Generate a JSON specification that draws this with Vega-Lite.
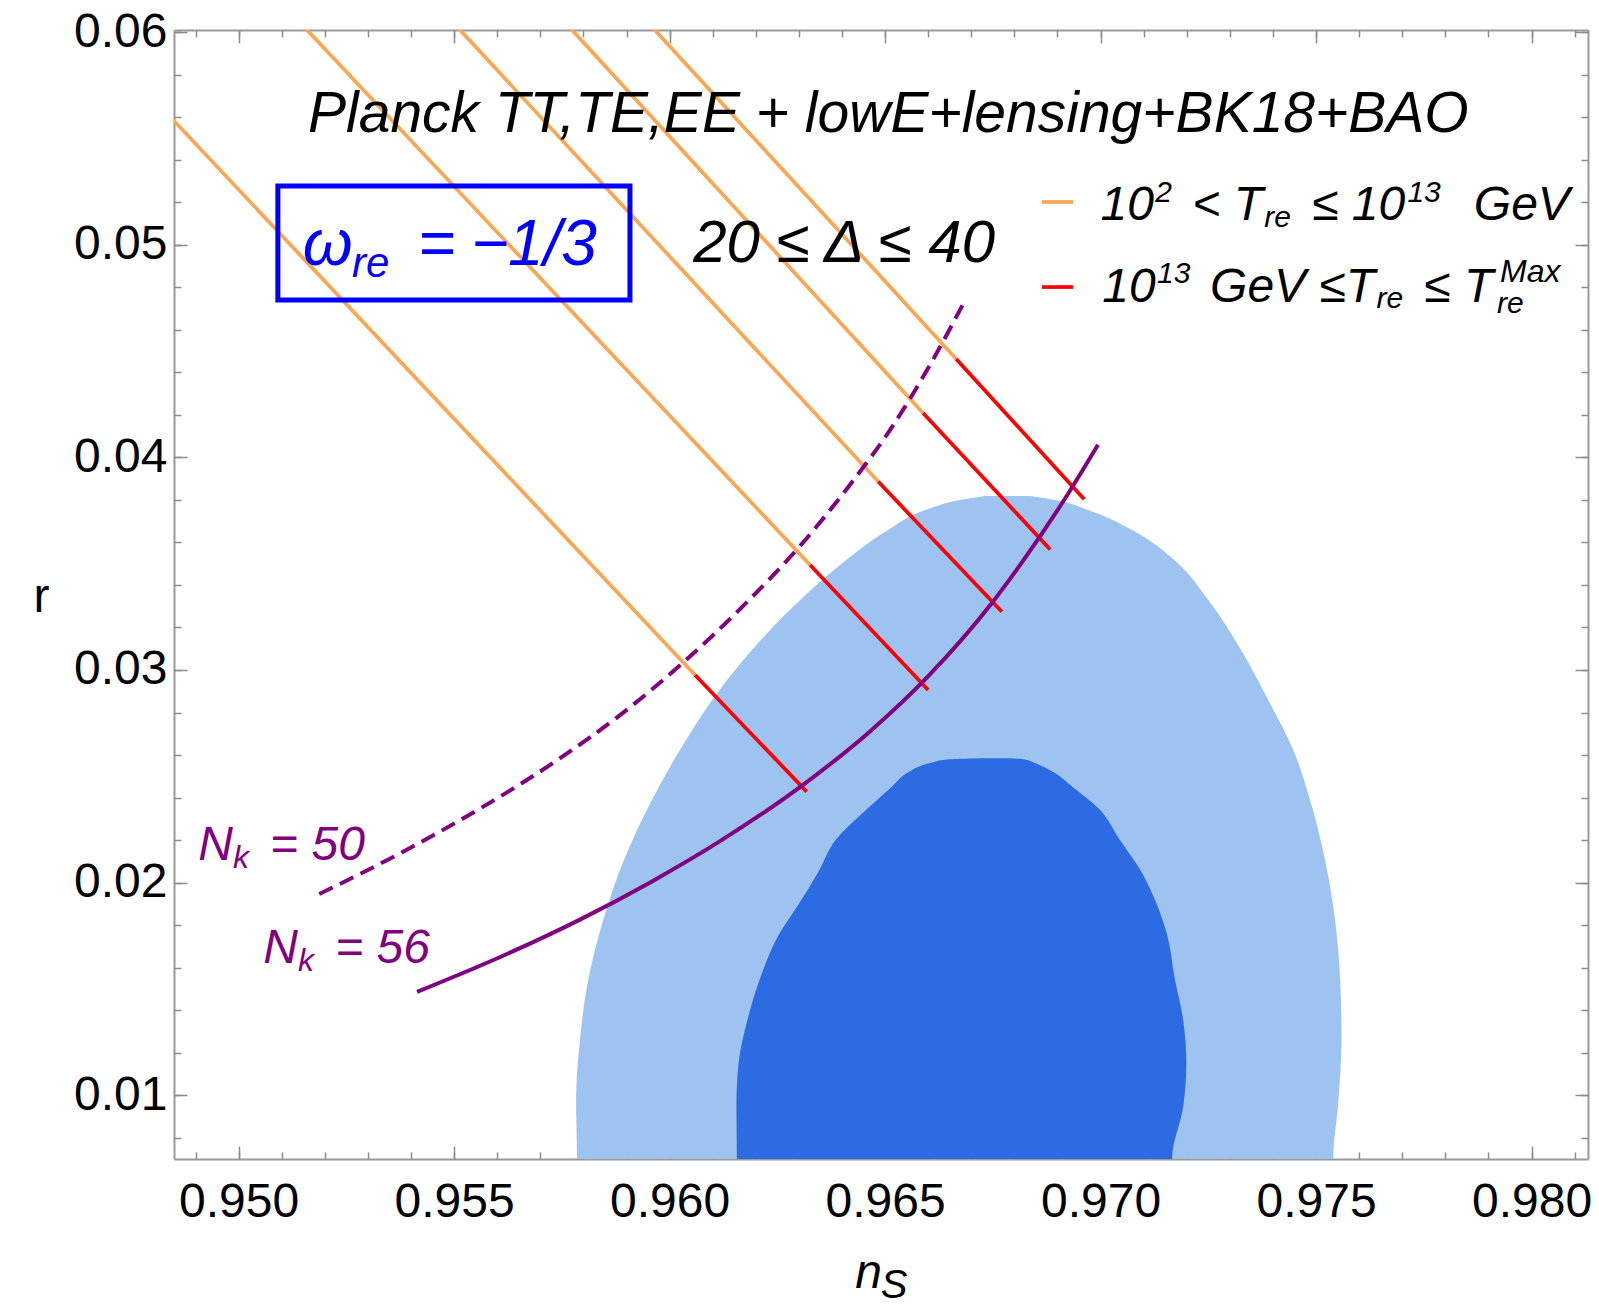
{
  "$schema": "https://vega.github.io/schema/vega-lite/v6.json",
  "width": 1414,
  "height": 1129,
  "autosize": {"type": "none"},
  "padding": {"left": 174, "top": 30, "right": 11, "bottom": 150},
  "background": "white",
  "config": {
    "view": {"stroke": null},
    "font": "Liberation Sans",
    "axis": {
      "grid": false, "zindex": 1,
      "tickColor": "#8c8c8c", "tickWidth": 1.5,
      "domainColor": "#9a9a9a", "domainWidth": 2,
      "labelFont": "Liberation Sans", "labelFontSize": 48, "labelColor": "#000000",
      "labelFlush": false, "labelOverlap": false,
      "titleFont": "Liberation Sans", "titleFontSize": 48, "titleFontWeight": "normal", "titleColor": "#000000"
    }
  },
  "datasets": {
    "outer": [
      {"r": 0.00672, "ns": 0.95785, "ns2": 0.97540},
      {"r": 0.0070, "ns": 0.95785, "ns2": 0.97540},
      {"r": 0.00978, "ns": 0.95783, "ns2": 0.97552},
      {"r": 0.0126, "ns": 0.95792, "ns2": 0.97559},
      {"r": 0.01542, "ns": 0.95811, "ns2": 0.97556},
      {"r": 0.01824, "ns": 0.95846, "ns2": 0.97544},
      {"r": 0.02106, "ns": 0.95894, "ns2": 0.97521},
      {"r": 0.02389, "ns": 0.95959, "ns2": 0.97486},
      {"r": 0.02624, "ns": 0.96024, "ns2": 0.97447},
      {"r": 0.02859, "ns": 0.96099, "ns2": 0.97389},
      {"r": 0.03094, "ns": 0.96191, "ns2": 0.97326},
      {"r": 0.03329, "ns": 0.96303, "ns2": 0.97250},
      {"r": 0.03517, "ns": 0.96410, "ns2": 0.97171},
      {"r": 0.03658, "ns": 0.96507, "ns2": 0.97073},
      {"r": 0.03752, "ns": 0.96593, "ns2": 0.96971},
      {"r": 0.03799, "ns": 0.96674, "ns2": 0.96895},
      {"r": 0.03818, "ns": 0.96732, "ns2": 0.96837}
    ],
    "inner": [
      {"r": 0.0065, "ns": 0.96156, "ns2": 0.97166},
      {"r": 0.007, "ns": 0.96156, "ns2": 0.97166},
      {"r": 0.0095, "ns": 0.96155, "ns2": 0.97192},
      {"r": 0.0115, "ns": 0.96160, "ns2": 0.97199},
      {"r": 0.0135, "ns": 0.96180, "ns2": 0.97192},
      {"r": 0.0155, "ns": 0.96210, "ns2": 0.97172},
      {"r": 0.0175, "ns": 0.96252, "ns2": 0.97155},
      {"r": 0.019, "ns": 0.96300, "ns2": 0.97130},
      {"r": 0.0205, "ns": 0.96345, "ns2": 0.97095},
      {"r": 0.022, "ns": 0.96385, "ns2": 0.97045},
      {"r": 0.0235, "ns": 0.96460, "ns2": 0.96995},
      {"r": 0.0245, "ns": 0.96515, "ns2": 0.96935},
      {"r": 0.0252, "ns": 0.96555, "ns2": 0.96890},
      {"r": 0.0256, "ns": 0.96600, "ns2": 0.96850},
      {"r": 0.0258, "ns": 0.96650, "ns2": 0.96820},
      {"r": 0.02585, "ns": 0.96720, "ns2": 0.96790}
    ],
    "tlines": [
      {"seg": "1a", "range": "low", "ns": 0.94840, "r": 0.05604},
      {"seg": "1a", "range": "low", "ns": 0.96059, "r": 0.02976},
      {"seg": "1b", "range": "high", "ns": 0.96059, "r": 0.02976},
      {"seg": "1b", "range": "high", "ns": 0.96318, "r": 0.02428},
      {"seg": "2a", "range": "low", "ns": 0.95154, "r": 0.0602},
      {"seg": "2a", "range": "low", "ns": 0.96326, "r": 0.03494},
      {"seg": "2b", "range": "high", "ns": 0.96326, "r": 0.03494},
      {"seg": "2b", "range": "high", "ns": 0.96600, "r": 0.02906},
      {"seg": "3a", "range": "low", "ns": 0.95509, "r": 0.0602},
      {"seg": "3a", "range": "low", "ns": 0.96484, "r": 0.03886},
      {"seg": "3b", "range": "high", "ns": 0.96484, "r": 0.03886},
      {"seg": "3b", "range": "high", "ns": 0.96771, "r": 0.03274},
      {"seg": "4a", "range": "low", "ns": 0.95769, "r": 0.0602},
      {"seg": "4a", "range": "low", "ns": 0.96588, "r": 0.04209},
      {"seg": "4b", "range": "high", "ns": 0.96588, "r": 0.04209},
      {"seg": "4b", "range": "high", "ns": 0.96883, "r": 0.03567},
      {"seg": "5a", "range": "low", "ns": 0.95961, "r": 0.0602},
      {"seg": "5a", "range": "low", "ns": 0.96665, "r": 0.04463},
      {"seg": "5b", "range": "high", "ns": 0.96665, "r": 0.04463},
      {"seg": "5b", "range": "high", "ns": 0.96962, "r": 0.03803}
    ],
    "n50": [
      {"ns": 0.95187, "r": 0.01946},
      {"ns": 0.95374, "r": 0.02137},
      {"ns": 0.95560, "r": 0.02348},
      {"ns": 0.95746, "r": 0.02585},
      {"ns": 0.95885, "r": 0.02788},
      {"ns": 0.96031, "r": 0.03034},
      {"ns": 0.96180, "r": 0.03320},
      {"ns": 0.96303, "r": 0.03584},
      {"ns": 0.96412, "r": 0.03854},
      {"ns": 0.96519, "r": 0.04152},
      {"ns": 0.96604, "r": 0.04434},
      {"ns": 0.96681, "r": 0.04721}
    ],
    "n56": [
      {"ns": 0.95414, "r": 0.01486},
      {"ns": 0.95607, "r": 0.01650},
      {"ns": 0.95792, "r": 0.01826},
      {"ns": 0.95955, "r": 0.02001},
      {"ns": 0.96117, "r": 0.02195},
      {"ns": 0.96319, "r": 0.02474},
      {"ns": 0.96465, "r": 0.02711},
      {"ns": 0.96598, "r": 0.02966},
      {"ns": 0.96751, "r": 0.03323},
      {"ns": 0.96820, "r": 0.03513},
      {"ns": 0.96925, "r": 0.03830},
      {"ns": 0.96994, "r": 0.04059}
    ],
    "box": [
      {"ns": 0.95091, "ns2": 0.95908, "r": 0.05276, "r2": 0.04740}
    ],
    "swatch": [
      {"range": "low", "ns": 0.96864, "ns2": 0.96936, "r": 0.05201},
      {"range": "high", "ns": 0.96864, "ns2": 0.96936, "r": 0.04801}
    ],
    "labels": [
      {"grp": "title", "ns": 0.95161, "r": 0.0553, "t": "Planck TT,TE,EE + lowE+lensing+BK18+BAO"},
      {"grp": "delta", "ns": 0.96405, "r": 0.04919, "t": "20 ≤ Δ ≤ 40"},
      {"grp": "wmain", "ns": 0.95149, "r": 0.04905, "t": "ω"},
      {"grp": "wmain", "ns": 0.95416, "r": 0.04905, "t": "="},
      {"grp": "wmain", "ns": 0.95540, "r": 0.04905, "t": "−"},
      {"grp": "wmain", "ns": 0.95625, "r": 0.04905, "t": "1/3"},
      {"grp": "wsub", "ns": 0.95263, "r": 0.04848, "t": "re"},
      {"grp": "nmain", "ns": 0.94906, "r": 0.02106, "t": "N"},
      {"grp": "nmain", "ns": 0.95073, "r": 0.02106, "t": "= 50"},
      {"grp": "nmain", "ns": 0.95057, "r": 0.01622, "t": "N"},
      {"grp": "nmain", "ns": 0.95224, "r": 0.01622, "t": "= 56"},
      {"grp": "nsub", "ns": 0.94987, "r": 0.02069, "t": "k"},
      {"grp": "nsub", "ns": 0.95138, "r": 0.01584, "t": "k"},
      {"grp": "lmain", "ns": 0.97000, "r": 0.05116, "t": "10"},
      {"grp": "lmain", "ns": 0.97213, "r": 0.05116, "t": "< T"},
      {"grp": "lmain", "ns": 0.97491, "r": 0.05116, "t": "≤ 10"},
      {"grp": "lmain", "ns": 0.97866, "r": 0.05116, "t": "GeV"},
      {"grp": "lmain", "ns": 0.97004, "r": 0.04731, "t": "10"},
      {"grp": "lmain", "ns": 0.97254, "r": 0.04731, "t": "GeV ≤T"},
      {"grp": "lmain", "ns": 0.97751, "r": 0.04731, "t": "≤ T"},
      {"grp": "lsub", "ns": 0.97127, "r": 0.05201, "t": "2"},
      {"grp": "lsub", "ns": 0.97380, "r": 0.05083, "t": "re"},
      {"grp": "lsub", "ns": 0.97712, "r": 0.05201, "t": "13"},
      {"grp": "lsub", "ns": 0.97131, "r": 0.04820, "t": "13"},
      {"grp": "lsub", "ns": 0.97640, "r": 0.04703, "t": "re"},
      {"grp": "lsup", "ns": 0.97927, "r": 0.04825, "t": "Max"},
      {"grp": "lsub", "ns": 0.97920, "r": 0.04679, "t": "re"},
      {"grp": "xsub", "ns": 0.96490, "r": 0.00046, "t": "S"}
    ]
  },
  "encoding": {
    "x": {"field": "ns", "type": "quantitative", "scale": {"domain": [0.9485, 0.98131], "nice": false, "zero": false}, "axis": null},
    "y": {"field": "r", "type": "quantitative", "scale": {"domain": [0.007, 0.0601], "nice": false, "zero": false}, "axis": null}
  },
  "layer": [
    {
      "data": {"name": "outer"},
      "mark": {"type": "area", "orient": "horizontal", "interpolate": "monotone", "color": "#9ec3f0", "clip": true},
      "encoding": {
        "x": {"field": "ns", "type": "quantitative", "scale": {"domain": [0.9485, 0.98131], "nice": false, "zero": false},
          "axis": {"orient": "bottom", "values": [0.95, 0.955, 0.96, 0.965, 0.97, 0.975, 0.98], "format": ".3f", "tickSize": -13, "labelPadding": 32,
            "title": "n", "titleFontStyle": "italic", "titleX": 694, "titleY": 128, "titleAlign": "center", "titleBaseline": "alphabetic"}},
        "x2": {"field": "ns2"},
        "y": {"field": "r", "type": "quantitative", "scale": {"domain": [0.007, 0.0601], "nice": false, "zero": false},
          "axis": {"orient": "left", "values": [0.01, 0.02, 0.03, 0.04, 0.05, 0.06], "format": ".2f", "tickSize": -13, "labelPadding": 20,
            "title": "r", "titleAngle": 0, "titleX": -133, "titleY": 567, "titleAlign": "center", "titleBaseline": "middle"}}
      }
    },
    {
      "data": {"name": "inner"},
      "mark": {"type": "area", "orient": "horizontal", "interpolate": "monotone", "color": "#2c6be2", "clip": true},
      "encoding": {
        "x": {"field": "ns", "type": "quantitative", "scale": {"domain": [0.9485, 0.98131], "nice": false, "zero": false},
          "axis": {"orient": "bottom", "values": [0.949, 0.95, 0.951, 0.952, 0.953, 0.954, 0.955, 0.956, 0.957, 0.958, 0.959, 0.96, 0.961, 0.962, 0.963, 0.964, 0.965, 0.966, 0.967, 0.968, 0.969, 0.97, 0.971, 0.972, 0.973, 0.974, 0.975, 0.976, 0.977, 0.978, 0.979, 0.98, 0.981],
            "tickSize": -7, "labels": false, "domain": false, "title": null}},
        "x2": {"field": "ns2"},
        "y": {"field": "r", "type": "quantitative", "scale": {"domain": [0.007, 0.0601], "nice": false, "zero": false},
          "axis": {"orient": "left", "values": [0.008, 0.01, 0.012, 0.014, 0.016, 0.018, 0.02, 0.022, 0.024, 0.026, 0.028, 0.03, 0.032, 0.034, 0.036, 0.038, 0.04, 0.042, 0.044, 0.046, 0.048, 0.05, 0.052, 0.054, 0.056, 0.058, 0.06],
            "tickSize": -7, "labels": false, "domain": false, "title": null}}
      }
    },
    {
      "data": {"name": "tlines"},
      "mark": {"type": "line", "strokeWidth": 3.7, "clip": true},
      "encoding": {
        "x": {"field": "ns", "type": "quantitative", "scale": {"domain": [0.9485, 0.98131], "nice": false, "zero": false},
          "axis": {"orient": "top", "values": [0.95, 0.955, 0.96, 0.965, 0.97, 0.975, 0.98], "tickSize": -13, "labels": false, "title": null}},
        "y": {"field": "r", "type": "quantitative", "scale": {"domain": [0.007, 0.0601], "nice": false, "zero": false},
          "axis": {"orient": "right", "values": [0.01, 0.02, 0.03, 0.04, 0.05, 0.06], "tickSize": -13, "labels": false, "title": null}},
        "color": {"field": "range", "type": "nominal", "scale": {"domain": ["low", "high"], "range": ["#fba653", "#ff0000"]}, "legend": null},
        "detail": {"field": "seg", "type": "nominal"}
      }
    },
    {
      "data": {"name": "n50"},
      "mark": {"type": "line", "color": "#800080", "strokeWidth": 4, "strokeDash": [15, 8], "interpolate": "monotone", "clip": true},
      "encoding": {
        "x": {"field": "ns", "type": "quantitative", "scale": {"domain": [0.9485, 0.98131], "nice": false, "zero": false},
          "axis": {"orient": "top", "values": [0.949, 0.95, 0.951, 0.952, 0.953, 0.954, 0.955, 0.956, 0.957, 0.958, 0.959, 0.96, 0.961, 0.962, 0.963, 0.964, 0.965, 0.966, 0.967, 0.968, 0.969, 0.97, 0.971, 0.972, 0.973, 0.974, 0.975, 0.976, 0.977, 0.978, 0.979, 0.98, 0.981],
            "tickSize": -7, "labels": false, "domain": false, "title": null}},
        "y": {"field": "r", "type": "quantitative", "scale": {"domain": [0.007, 0.0601], "nice": false, "zero": false},
          "axis": {"orient": "right", "values": [0.008, 0.01, 0.012, 0.014, 0.016, 0.018, 0.02, 0.022, 0.024, 0.026, 0.028, 0.03, 0.032, 0.034, 0.036, 0.038, 0.04, 0.042, 0.044, 0.046, 0.048, 0.05, 0.052, 0.054, 0.056, 0.058, 0.06],
            "tickSize": -7, "labels": false, "domain": false, "title": null}}
      }
    },
    {
      "data": {"name": "n56"},
      "mark": {"type": "line", "color": "#800080", "strokeWidth": 4, "interpolate": "monotone", "clip": true}
    },
    {
      "data": {"name": "box"},
      "mark": {"type": "rect", "filled": false, "color": "#0000ff", "strokeWidth": 5},
      "encoding": {"x2": {"field": "ns2"}, "y2": {"field": "r2"}}
    },
    {
      "data": {"name": "swatch"},
      "mark": {"type": "rule", "strokeWidth": 3.7},
      "encoding": {
        "x2": {"field": "ns2"},
        "color": {"field": "range", "type": "nominal", "scale": {"domain": ["low", "high"], "range": ["#fba653", "#ff0000"]}, "legend": null}
      }
    },
    {
      "data": {"name": "labels"},
      "transform": [{"filter": "datum.grp === 'title'"}],
      "mark": {"type": "text", "align": "left", "baseline": "alphabetic", "fontSize": 57, "fontStyle": "italic", "color": "#000000"},
      "encoding": {"text": {"field": "t"}}
    },
    {
      "data": {"name": "labels"},
      "transform": [{"filter": "datum.grp === 'delta'"}],
      "mark": {"type": "text", "align": "center", "baseline": "alphabetic", "fontSize": 60, "fontStyle": "italic", "color": "#000000"},
      "encoding": {"text": {"field": "t"}}
    },
    {
      "data": {"name": "labels"},
      "transform": [{"filter": "datum.grp === 'wmain'"}],
      "mark": {"type": "text", "align": "left", "baseline": "alphabetic", "fontSize": 64, "fontStyle": "italic", "color": "#0000ff"},
      "encoding": {"text": {"field": "t"}}
    },
    {
      "data": {"name": "labels"},
      "transform": [{"filter": "datum.grp === 'wsub'"}],
      "mark": {"type": "text", "align": "left", "baseline": "alphabetic", "fontSize": 42, "fontStyle": "italic", "color": "#0000ff"},
      "encoding": {"text": {"field": "t"}}
    },
    {
      "data": {"name": "labels"},
      "transform": [{"filter": "datum.grp === 'nmain'"}],
      "mark": {"type": "text", "align": "left", "baseline": "alphabetic", "fontSize": 48, "fontStyle": "italic", "color": "#800080"},
      "encoding": {"text": {"field": "t"}}
    },
    {
      "data": {"name": "labels"},
      "transform": [{"filter": "datum.grp === 'nsub'"}],
      "mark": {"type": "text", "align": "left", "baseline": "alphabetic", "fontSize": 32, "fontStyle": "italic", "color": "#800080"},
      "encoding": {"text": {"field": "t"}}
    },
    {
      "data": {"name": "labels"},
      "transform": [{"filter": "datum.grp === 'lmain'"}],
      "mark": {"type": "text", "align": "left", "baseline": "alphabetic", "fontSize": 48, "fontStyle": "italic", "color": "#000000"},
      "encoding": {"text": {"field": "t"}}
    },
    {
      "data": {"name": "labels"},
      "transform": [{"filter": "datum.grp === 'lsub'"}],
      "mark": {"type": "text", "align": "left", "baseline": "alphabetic", "fontSize": 30, "fontStyle": "italic", "color": "#000000"},
      "encoding": {"text": {"field": "t"}}
    },
    {
      "data": {"name": "labels"},
      "transform": [{"filter": "datum.grp === 'lsup'"}],
      "mark": {"type": "text", "align": "left", "baseline": "alphabetic", "fontSize": 32, "fontStyle": "italic", "color": "#000000"},
      "encoding": {"text": {"field": "t"}}
    },
    {
      "data": {"name": "labels"},
      "transform": [{"filter": "datum.grp === 'xsub'"}],
      "mark": {"type": "text", "align": "left", "baseline": "alphabetic", "fontSize": 40, "fontStyle": "italic", "color": "#000000"},
      "encoding": {"text": {"field": "t"}}
    }
  ],
  "resolve": {"axis": {"x": "independent", "y": "independent"}}
}
